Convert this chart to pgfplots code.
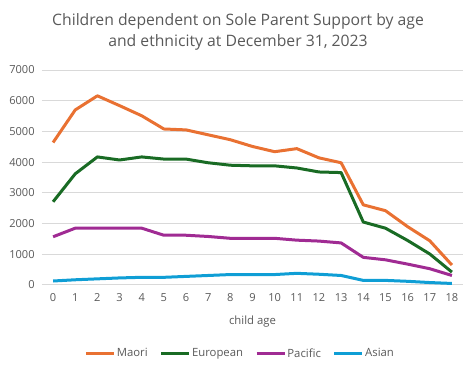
\documentclass[border=0pt]{standalone}
\usepackage{pgfplots}
\pgfplotsset{compat=1.18}
\usepackage{fontspec}
\setmainfont{Open Sans}
\definecolor{maori}{HTML}{E97132}
\definecolor{euro}{HTML}{196B24}
\definecolor{pac}{HTML}{A02B93}
\definecolor{asian}{HTML}{0F9ED5}
\definecolor{txt}{HTML}{595959}
\definecolor{gridc}{HTML}{D9D9D9}
\begin{document}
\begin{tikzpicture}
\path[use as bounding box] (0pt,0pt) rectangle (357pt,279pt);
\node[text=txt,font=\fontsize{11.8}{16}\selectfont,align=center] at (178.5pt,255pt) {Children dependent on Sole Parent Support by age\\and ethnicity at December 31, 2023};
\begin{axis}[
  at={(31.5pt,65.25pt)}, anchor=south west,
  scale only axis, width=315.75pt, height=161.25pt,
  xmin=-0.5, xmax=18.5, ymin=0, ymax=7000,
  xtick={0,...,18}, ytick={0,1000,...,7000},
  axis line style={draw=none},
  ymajorgrids, major grid style={gridc, line width=0.75pt},
  major tick length=0pt,
  ticklabel style={text=txt, font=\fontsize{8.3}{10}\selectfont},
  xticklabel style={yshift=-3pt},
  yticklabel style={xshift=-2pt},
  /pgf/number format/assume math mode=true,
  /pgf/number format/1000 sep={},
  xlabel={child age}, xlabel style={text=txt, font=\fontsize{8.5}{10}\selectfont, yshift=-4pt},
  legend columns=4,
  legend style={draw=none, fill=none, at={(0.47,-0.32)}, anchor=center, font=\fontsize{8.5}{10}\selectfont, text=txt, /tikz/every even column/.append style={column sep=8pt}, nodes={inner sep=1pt}},
  legend image code/.code={\draw[#1, line width=2.25pt] (0pt,0pt) -- (21pt,0pt);},
  every axis plot/.append style={line width=2.25pt, line join=round},
  clip=false,
]
\addplot[maori, mark=none] coordinates {(0,4640)(1,5700)(2,6160)(3,5840)(4,5510)(5,5080)(6,5050)(7,4890)(8,4730)(9,4510)(10,4340)(11,4440)(12,4140)(13,3980)(14,2610)(15,2420)(16,1900)(17,1440)(18,650)};
\addlegendentry{Maori}
\addplot[euro, mark=none] coordinates {(0,2710)(1,3620)(2,4170)(3,4070)(4,4170)(5,4100)(6,4100)(7,3980)(8,3900)(9,3880)(10,3880)(11,3810)(12,3680)(13,3660)(14,2050)(15,1850)(16,1450)(17,1010)(18,420)};
\addlegendentry{European}
\addplot[pac, mark=none] coordinates {(0,1570)(1,1850)(2,1850)(3,1850)(4,1850)(5,1620)(6,1620)(7,1580)(8,1520)(9,1520)(10,1520)(11,1460)(12,1430)(13,1370)(14,900)(15,820)(16,680)(17,530)(18,310)};
\addlegendentry{Pacific}
\addplot[asian, mark=none] coordinates {(0,130)(1,170)(2,200)(3,230)(4,250)(5,250)(6,280)(7,310)(8,340)(9,340)(10,340)(11,380)(12,350)(13,310)(14,150)(15,150)(16,120)(17,80)(18,50)};
\addlegendentry{Asian}
\end{axis}
\end{tikzpicture}
\end{document}
